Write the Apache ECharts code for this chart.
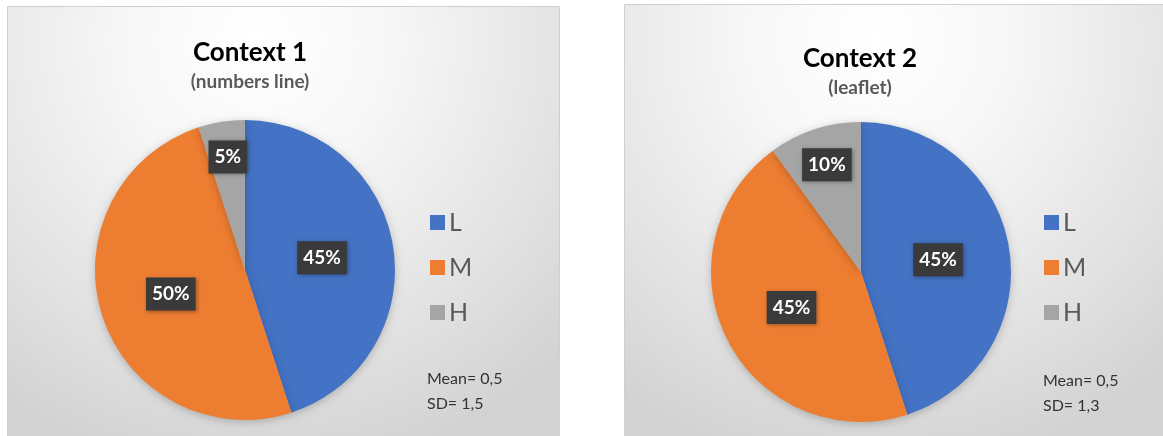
<!DOCTYPE html>
<html>
<head>
<meta charset="utf-8">
<script src="https://cdn.jsdelivr.net/npm/echarts@6/dist/echarts.min.js"></script>
<style>
html,body{margin:0;padding:0;background:#ffffff;}
#chart{width:1163px;height:436px;}
</style>
</head>
<body>
<div id="chart"></div>
<script>
// ---- data ----
const categories = ['L', 'M', 'H'];
const context1Values = [45, 50, 5];
const context2Values = [45, 45, 10];
const chartTitles = ['Context 1', 'Context 2'];
const chartSubtitles = ['(numbers line)', '(leaflet)'];
const context1Stats = ['Mean= 0,5', 'SD= 1,5'];
const context2Stats = ['Mean= 0,5', 'SD= 1,3'];
const colors = ['#4472C4', '#ED7D31', '#A5A5A5'];

const FONT = 'Lato, "Open Sans", sans-serif';

function panelFill() {
  return {
    type: 'radial', x: 0.45, y: 0.08, r: 1.0,
    colorStops: [
      { offset: 0, color: '#ffffff' },
      { offset: 0.3, color: '#f7f7f7' },
      { offset: 0.7, color: '#e3e3e3' },
      { offset: 1, color: '#d2d2d2' }
    ]
  };
}

function buildData(values, smallOffset) {
  return categories.map((name, i) => {
    const item = { name: name, value: values[i] };
    if (i === 2) item.label = { offset: smallOffset };
    return item;
  });
}

const labelStyle = {
  show: true,
  position: 'inside',
  formatter: '{c}%',
  color: '#ffffff',
  fontFamily: FONT,
  fontWeight: 'bold',
  fontSize: 19,
  backgroundColor: '#3a3a3a',
  padding: [8, 6, 6, 6],
  shadowBlur: 4,
  shadowColor: 'rgba(0,0,0,0.35)',
  shadowOffsetX: 1,
  shadowOffsetY: 1
};

const pieCommon = {
  type: 'pie',
  radius: 150,
  startAngle: 90,
  clockwise: true,
  label: labelStyle,
  labelLine: { show: false },
  emphasis: { disabled: true },
  itemStyle: {
    borderWidth: 0,
    shadowBlur: 8,
    shadowColor: 'rgba(0,0,0,0.22)',
    shadowOffsetY: 2
  },
  animation: false
};

const legendCommon = {
  orient: 'vertical',
  icon: 'rect',
  itemWidth: 15,
  itemHeight: 15,
  itemGap: 20,
  padding: 0,
  data: categories,
  textStyle: { color: '#595959', fontSize: 25, fontFamily: FONT, lineHeight: 24, padding: [0, 0, 0, -1] },
  selectedMode: false
};

const chart = echarts.init(document.getElementById('chart'), null, { renderer: 'canvas' });
chart.setOption({
  color: colors,
  animation: false,
  graphic: [
    { type: 'rect', z: -10, shape: { x: 7.5, y: 6.5, width: 552, height: 440 },
      style: { fill: panelFill(), stroke: '#cfcfcf', lineWidth: 1 } },
    { type: 'rect', z: -10, shape: { x: 624.5, y: 4.5, width: 560, height: 440 },
      style: { fill: panelFill(), stroke: '#cfcfcf', lineWidth: 1 } },
    { type: 'text', left: 427, top: 366,
      style: { text: context1Stats.join('\n'), fill: '#333333', font: '16px ' + FONT, lineHeight: 25 } },
    { type: 'text', left: 1043, top: 368,
      style: { text: context2Stats.join('\n'), fill: '#333333', font: '16px ' + FONT, lineHeight: 25 } }
  ],
  title: [
    { text: chartTitles[0], subtext: chartSubtitles[0], left: 245, top: 35, textAlign: 'center',
      itemGap: 6,
      textStyle: { fontFamily: FONT, fontWeight: 'bold', fontSize: 26, color: '#000000' },
      subtextStyle: { fontFamily: FONT, fontWeight: 'bold', fontSize: 19, color: '#595959' } },
    { text: chartTitles[1], subtext: chartSubtitles[1], left: 855, top: 41, textAlign: 'center',
      itemGap: 6,
      textStyle: { fontFamily: FONT, fontWeight: 'bold', fontSize: 26, color: '#000000' },
      subtextStyle: { fontFamily: FONT, fontWeight: 'bold', fontSize: 19, color: '#595959' } }
  ],
  legend: [
    Object.assign({}, legendCommon, { left: 430, top: 210 }),
    Object.assign({}, legendCommon, { left: 1044, top: 210 })
  ],
  series: [
    Object.assign({}, pieCommon, { name: chartTitles[0], center: [245, 270], data: buildData(context1Values, [-5, -36]) }),
    Object.assign({}, pieCommon, { name: chartTitles[1], center: [861, 272], data: buildData(context2Values, [-10, -33]) })
  ]
});
</script>
</body>
</html>
